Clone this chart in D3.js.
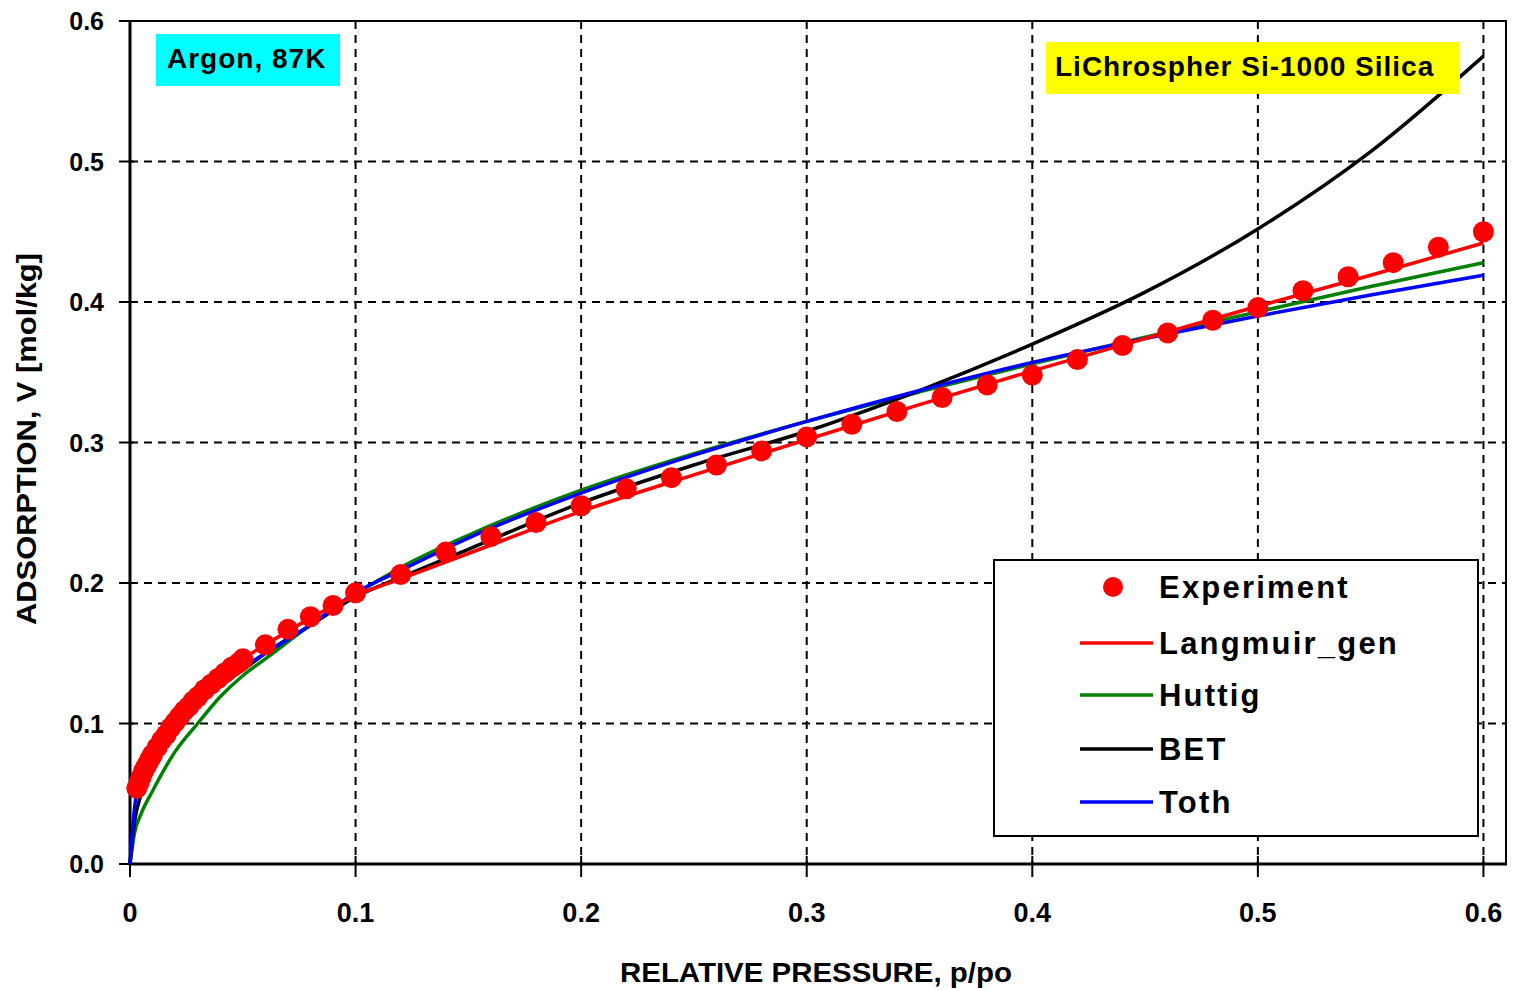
<!DOCTYPE html>
<html>
<head>
<meta charset="utf-8">
<script src="https://cdn.jsdelivr.net/npm/d3@7"></script>
<style>
  body { margin: 0; background: #fff; }
  svg text { font-family: "Liberation Sans", Arial, sans-serif; font-weight: bold; fill: #000; }
</style>
</head>
<body>
<div id="chart"></div>
<script>
// experiment points (p/po, mol/kg)
var expX = [0.003, 0.004, 0.005, 0.006, 0.007, 0.008, 0.009, 0.010, 0.012, 0.014, 0.016, 0.018,
  0.020, 0.022, 0.024, 0.026, 0.028, 0.030, 0.033, 0.036, 0.039, 0.042, 0.045, 0.048, 0.050,
  0.06, 0.07, 0.08, 0.09, 0.10, 0.12, 0.14, 0.16, 0.18, 0.20, 0.22, 0.24, 0.26, 0.28, 0.30,
  0.32, 0.34, 0.36, 0.38, 0.40, 0.42, 0.44, 0.46, 0.48, 0.50, 0.52, 0.54, 0.56, 0.58, 0.60];
var expY = [0.054, 0.058, 0.062, 0.066, 0.069, 0.072, 0.075, 0.078, 0.083, 0.088, 0.092, 0.097,
  0.101, 0.105, 0.109, 0.112, 0.116, 0.119, 0.124, 0.128, 0.132, 0.136, 0.140, 0.143, 0.146,
  0.156, 0.167, 0.176, 0.184, 0.193, 0.206, 0.222, 0.233, 0.243, 0.255, 0.267, 0.275, 0.284, 0.294, 0.304,
  0.313, 0.322, 0.332, 0.341, 0.348, 0.359, 0.369, 0.378, 0.387, 0.396, 0.408, 0.418, 0.428, 0.439, 0.450];

// model curves
var curveX = [0, 0.002, 0.005, 0.01, 0.02, 0.03, 0.04, 0.05, 0.06, 0.08, 0.10, 0.12, 0.15,
  0.20, 0.25, 0.30, 0.35, 0.40, 0.45, 0.50, 0.55, 0.60];
var huttigY = [0, 0.022, 0.036, 0.052, 0.080, 0.100, 0.119, 0.134, 0.146, 0.170, 0.192, 0.211, 0.234,
  0.266, 0.292, 0.315, 0.336, 0.356, 0.375, 0.393, 0.411, 0.428];
var betY = [0, 0.030, 0.050, 0.072, 0.097, 0.114, 0.127, 0.138, 0.150, 0.170, 0.190, 0.204, 0.224,
  0.257, 0.284, 0.308, 0.337, 0.370, 0.407, 0.452, 0.507, 0.575];
var tothY = [0, 0.040, 0.062, 0.080, 0.101, 0.116, 0.129, 0.140, 0.150, 0.170, 0.193, 0.209, 0.232,
  0.264, 0.291, 0.315, 0.337, 0.357, 0.374, 0.390, 0.405, 0.419];
var langX = [0.003, 0.005, 0.01, 0.02, 0.03, 0.04, 0.05, 0.06, 0.08, 0.10, 0.12, 0.15, 0.20,
  0.25, 0.30, 0.35, 0.40, 0.45, 0.50, 0.55, 0.60];
var langY = [0.052, 0.060, 0.078, 0.101, 0.119, 0.134, 0.146, 0.156, 0.175, 0.191, 0.203, 0.221, 0.251,
  0.277, 0.302, 0.327, 0.351, 0.374, 0.397, 0.419, 0.442];

var xTicks = [0, 0.1, 0.2, 0.3, 0.4, 0.5, 0.6];
var xTickLabels = ["0", "0.1", "0.2", "0.3", "0.4", "0.5", "0.6"];
var yTicks = [0, 0.1, 0.2, 0.3, 0.4, 0.5, 0.6];
var yTickLabels = ["0.0", "0.1", "0.2", "0.3", "0.4", "0.5", "0.6"];

var seriesNames = ["Experiment", "Langmuir_gen", "Huttig", "BET", "Toth"];
var seriesColors = ["#ff0000", "#ff0000", "#008000", "#000000", "#0000ff"];

var W = 1522, H = 991;
var pl = 130, pr = 1506, pt = 21, pb = 864;

var svg = d3.select("#chart").append("svg")
  .attr("width", W)
  .attr("height", H);

var x = d3.scaleLinear().domain([0, 0.61]).range([pl, pr]);
var y = d3.scaleLinear().domain([0, 0.6]).range([pb, pt]);

// grid
svg.append("g").selectAll("line")
  .data(xTicks.slice(1))
  .join("line")
    .attr("x1", d => x(d)).attr("x2", d => x(d))
    .attr("y1", pt).attr("y2", pb)
    .attr("stroke", "#000").attr("stroke-width", 2)
    .attr("stroke-dasharray", "8,6");
svg.append("g").selectAll("line")
  .data(yTicks.slice(1))
  .join("line")
    .attr("x1", pl).attr("x2", pr)
    .attr("y1", d => y(d)).attr("y2", d => y(d))
    .attr("stroke", "#000").attr("stroke-width", 2)
    .attr("stroke-dasharray", "8,6");

// frame
svg.append("rect")
  .attr("x", pl).attr("y", pt)
  .attr("width", pr - pl).attr("height", pb - pt)
  .attr("fill", "none").attr("stroke", "#000").attr("stroke-width", 2);
svg.append("line").attr("x1", pl).attr("x2", pl).attr("y1", pt - 1).attr("y2", pb + 1)
  .attr("stroke", "#000").attr("stroke-width", 3);
svg.append("line").attr("x1", pl - 1).attr("x2", pr + 1).attr("y1", pb).attr("y2", pb)
  .attr("stroke", "#000").attr("stroke-width", 3);

// ticks
svg.append("g").selectAll("line")
  .data(xTicks)
  .join("line")
    .attr("x1", d => x(d)).attr("x2", d => x(d))
    .attr("y1", pb - 8).attr("y2", pb + 13)
    .attr("stroke", "#000").attr("stroke-width", 2);
svg.append("g").selectAll("line")
  .data(yTicks)
  .join("line")
    .attr("x1", pl - 11).attr("x2", pl + 4)
    .attr("y1", d => y(d)).attr("y2", d => y(d))
    .attr("stroke", "#000").attr("stroke-width", 2);

// tick labels
svg.append("g").selectAll("text")
  .data(xTicks)
  .join("text")
    .attr("x", d => x(d)).attr("y", 922)
    .attr("text-anchor", "middle")
    .style("font-size", "27px")
    .text((d, i) => xTickLabels[i]);
svg.append("g").selectAll("text")
  .data(yTicks)
  .join("text")
    .attr("x", 104).attr("y", d => y(d) + 9)
    .attr("text-anchor", "end")
    .style("font-size", "25px")
    .text((d, i) => yTickLabels[i]);

// axis titles
svg.append("text")
  .attr("x", 620).attr("y", 982)
  .attr("textLength", 392).attr("lengthAdjust", "spacingAndGlyphs")
  .style("font-size", "28px")
  .text("RELATIVE PRESSURE, p/po");
svg.append("text")
  .attr("transform", "translate(36,625) rotate(-90)")
  .attr("textLength", 372).attr("lengthAdjust", "spacingAndGlyphs")
  .style("font-size", "27px")
  .text("ADSORPTION, V [mol/kg]");

// curves
var line = d3.line().x(d => x(d[0])).y(d => y(d[1])).curve(d3.curveMonotoneX);
function drawCurve(xs, ys, color) {
  svg.append("path")
    .datum(xs.map((v, i) => [v, ys[i]]))
    .attr("fill", "none")
    .attr("stroke", color)
    .attr("stroke-width", 3.5)
    .attr("d", line);
}
drawCurve(curveX, huttigY, seriesColors[2]);
drawCurve(curveX, betY, seriesColors[3]);
drawCurve(curveX, tothY, seriesColors[4]);
drawCurve(langX, langY, seriesColors[1]);

// experiment points
svg.append("g").selectAll("circle")
  .data(expX.map((v, i) => [v, expY[i]]))
  .join("circle")
    .attr("cx", d => x(d[0]))
    .attr("cy", d => y(d[1]))
    .attr("r", 10.5)
    .attr("fill", seriesColors[0]);

// annotation boxes
svg.append("rect").attr("x", 156).attr("y", 34).attr("width", 184).attr("height", 52).attr("fill", "#00ffff");
svg.append("text").attr("x", 167).attr("y", 68).style("font-size", "28px").style("letter-spacing", "1px").text("Argon, 87K");
svg.append("rect").attr("x", 1046).attr("y", 42).attr("width", 414).attr("height", 52).attr("fill", "#ffff00");
svg.append("text").attr("x", 1055).attr("y", 76).style("font-size", "28px").style("letter-spacing", "1px").text("LiChrospher Si-1000 Silica");

// legend
var lg = svg.append("g");
lg.append("rect")
  .attr("x", 994).attr("y", 560).attr("width", 484).attr("height", 276)
  .attr("fill", "#fff").attr("stroke", "#000").attr("stroke-width", 2);
var legendY = [587, 643, 695, 749, 802];
seriesNames.forEach(function(name, i) {
  if (i === 0) {
    lg.append("circle").attr("cx", 1113).attr("cy", legendY[i]).attr("r", 10).attr("fill", seriesColors[i]);
  } else {
    lg.append("line")
      .attr("x1", 1080).attr("x2", 1153)
      .attr("y1", legendY[i]).attr("y2", legendY[i])
      .attr("stroke", seriesColors[i]).attr("stroke-width", 3.5);
  }
  lg.append("text")
    .attr("x", 1159).attr("y", legendY[i] + 11)
    .style("font-size", "31px")
    .style("letter-spacing", "2.2px")
    .text(name);
});
</script>
</body>
</html>
